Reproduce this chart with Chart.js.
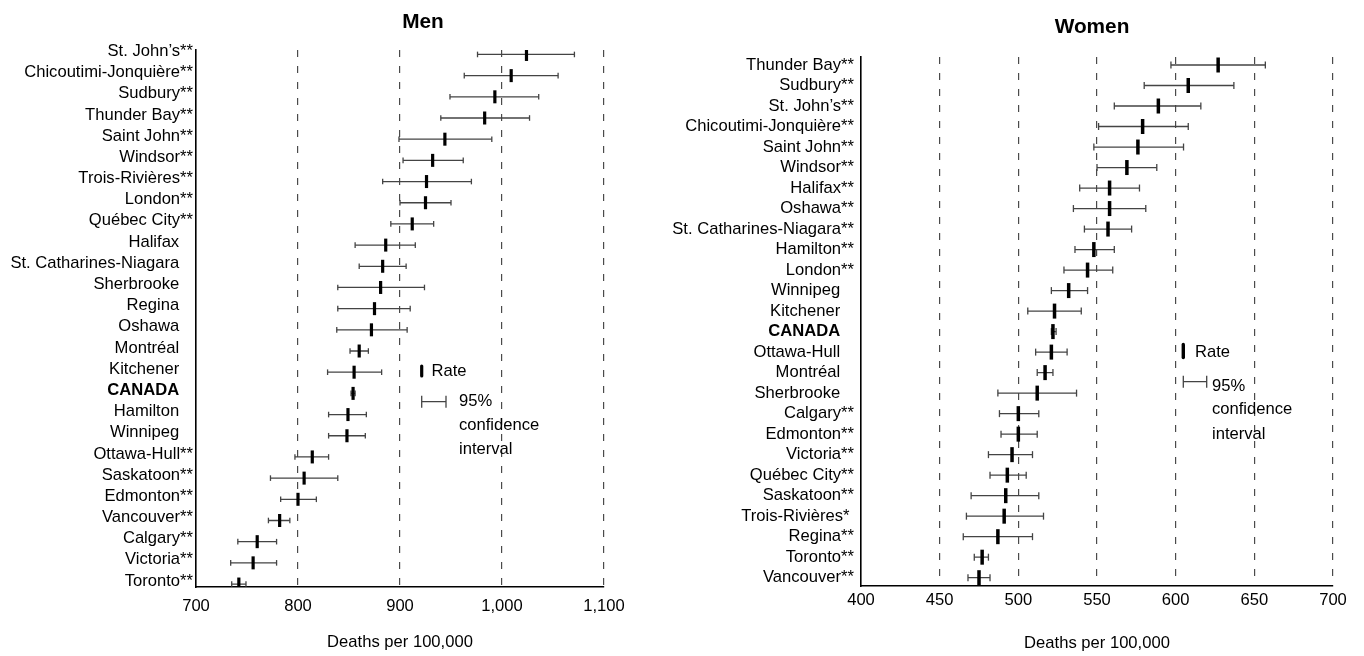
<!DOCTYPE html>
<html>
<head>
<meta charset="utf-8">
<script src="https://cdn.jsdelivr.net/npm/chart.js@4.4.1/dist/chart.umd.min.js"></script>
<style>
  html, body { margin: 0; padding: 0; background: #fff; overflow: hidden; width: 1364px; height: 656px; }
  .panel { position: absolute; top: 0; height: 656px; }
  #menWrap { left: 0; width: 644px; }
  #womenWrap { left: 664px; width: 700px; }
</style>
</head>
<body>
<div class="panel" id="menWrap"><canvas id="men"></canvas></div>
<div class="panel" id="womenWrap"><canvas id="women"></canvas></div>
<script>
// ---------------- DATA ----------------
const menCities = ["St. John’s**", "Chicoutimi-Jonquière**", "Sudbury**", "Thunder Bay**", "Saint John**",
  "Windsor**", "Trois-Rivières**", "London**", "Québec City**", "Halifax", "St. Catharines-Niagara",
  "Sherbrooke", "Regina", "Oshawa", "Montréal", "Kitchener", "CANADA", "Hamilton", "Winnipeg",
  "Ottawa-Hull**", "Saskatoon**", "Edmonton**", "Vancouver**", "Calgary**", "Victoria**", "Toronto**"];
const menRate = [1024, 1009, 993, 983, 944, 932, 926, 925, 912, 886, 883, 881, 875, 872, 860, 855, 854, 849, 848, 814, 806, 800, 782, 760, 756, 742];
const menLow  = [976, 963, 949, 940, 899, 903, 883, 900, 891, 856, 860, 839, 839, 838, 851, 829, 852, 830, 830, 797, 773, 783, 771, 741, 734, 735];
const menHigh = [1071, 1055, 1036, 1027, 990, 962, 970, 950, 933, 915, 906, 924, 910, 907, 869, 882, 856, 867, 866, 830, 839, 818, 792, 779, 779, 749];

const womenCities = ["Thunder Bay**", "Sudbury**", "St. John’s**", "Chicoutimi-Jonquière**", "Saint John**",
  "Windsor**", "Halifax**", "Oshawa**", "St. Catharines-Niagara**", "Hamilton**", "London**", "Winnipeg",
  "Kitchener", "CANADA", "Ottawa-Hull", "Montréal", "Sherbrooke", "Calgary**", "Edmonton**", "Victoria**",
  "Québec City**", "Saskatoon**", "Trois-Rivières*", "Regina**", "Toronto**", "Vancouver**"];
const womenRate = [627, 608, 589, 579, 576, 569, 558, 558, 557, 548, 544, 532, 523, 522, 521, 517, 512, 500, 500, 496, 493, 492, 491, 487, 477, 475];
const womenLow  = [597, 580, 561, 551, 548, 550, 539, 535, 542, 536, 529, 521, 506, 521, 511, 512, 487, 488, 489, 481, 482, 470, 467, 465, 472, 468];
const womenHigh = [657, 637, 616, 608, 605, 588, 577, 581, 572, 561, 560, 544, 540, 524, 531, 522, 537, 513, 512, 509, 505, 513, 516, 509, 481, 482];

const menTicks = [700, 800, 900, 1000, 1100];
const womenTicks = [400, 450, 500, 550, 600, 650, 700];
const axisTitle = "Deaths per 100,000";
const legendTexts = ["Rate", "95%", "confidence", "interval"];

// ---------------- FONT ----------------
function hasFont(name) {
  const c = document.createElement('canvas').getContext('2d');
  const t = 'Chicoutimi-Jonquière 1,000 Deaths';
  let diff = false;
  for (const base of ['monospace', 'serif']) {
    c.font = '20px ' + base; const a = c.measureText(t).width;
    c.font = '20px "' + name + '", ' + base; const b = c.measureText(t).width;
    if (Math.abs(a - b) > 0.5) diff = true;
  }
  return diff;
}
let FAMILY, K;
if (hasFont('Liberation Sans Narrow')) { FAMILY = '"Liberation Sans Narrow", "Liberation Sans", Arial, sans-serif'; K = 1; }
else { FAMILY = '"Liberation Sans", Arial, sans-serif'; K = 0.83; }
const fs = n => Math.round(n * K * 10) / 10;

// ---------------- DECOR PLUGIN (titles + legend) ----------------
const decor = {
  id: 'decor',
  afterDraw(chart, args, o) {
    const ctx = chart.ctx;
    ctx.save();
    ctx.fillStyle = '#000';
    ctx.font = 'bold ' + fs(25) + 'px ' + FAMILY;
    ctx.textAlign = 'center';
    ctx.textBaseline = 'alphabetic';
    ctx.fillText(o.title, o.titleX, o.titleY);

    // legend: rate symbol
    ctx.strokeStyle = '#000';
    ctx.lineCap = 'round';
    ctx.lineWidth = o.markW;
    ctx.beginPath();
    ctx.moveTo(o.lgX, o.rateY - o.markH / 2 + 1.5);
    ctx.lineTo(o.lgX, o.rateY + o.markH / 2 - 1.5);
    ctx.stroke();
    ctx.lineCap = 'butt';
    // legend: CI symbol
    ctx.strokeStyle = '#444';
    ctx.lineWidth = 1.3;
    ctx.beginPath();
    ctx.moveTo(o.lgX, o.ciY); ctx.lineTo(o.lgX2, o.ciY);
    ctx.moveTo(o.lgX, o.ciY - o.capH / 2); ctx.lineTo(o.lgX, o.ciY + o.capH / 2);
    ctx.moveTo(o.lgX2, o.ciY - o.capH / 2); ctx.lineTo(o.lgX2, o.ciY + o.capH / 2);
    ctx.stroke();
    // legend texts
    ctx.fillStyle = '#000';
    ctx.font = fs(20) + 'px ' + FAMILY;
    ctx.textAlign = 'left';
    ctx.textBaseline = 'middle';
    ctx.fillText(legendTexts[0], o.rateTX, o.rateTY);
    ctx.fillText(legendTexts[1], o.txX, o.t1Y);
    ctx.fillText(legendTexts[2], o.txX, o.t2Y);
    ctx.fillText(legendTexts[3], o.txX, o.t3Y);
    ctx.restore();
  }
};

function padLabel(s) {
  const stars = (s.match(/\*+$/) || [''])[0].length;
  return s + '\u00A0'.repeat(stars === 0 ? 3 : (stars === 1 ? 1 : 0));
}

function makeChart(id, cats, rate, lo, hi, tickVals, g) {
  const ciData = [];
  const capData = [];
  cats.forEach((c, i) => {
    ciData.push({ x: lo[i], y: i }, { x: hi[i], y: i }, { x: null, y: null });
    capData.push({ x: lo[i], y: i }, { x: hi[i], y: i });
  });
  const xmin = tickVals[0], xmax = tickVals[tickVals.length - 1];
  return new Chart(document.getElementById(id), {
    type: 'scatter',
    data: {
      datasets: [
        { label: 'Rate', data: rate.map((v, i) => ({ x: v, y: i })),
          pointStyle: 'line', pointRotation: 90, pointRadius: g.rateR, pointBorderWidth: g.rateW,
          pointBorderColor: '#000', pointBackgroundColor: '#000', pointHoverRadius: g.rateR },
        { label: 'caps', data: capData,
          pointStyle: 'line', pointRotation: 90, pointRadius: g.capR, pointBorderWidth: 1.3,
          pointBorderColor: '#444', pointHoverRadius: g.capR },
        { label: 'CI', data: ciData, showLine: true, spanGaps: false,
          borderColor: '#444', borderWidth: 1.3, pointRadius: 0, pointHoverRadius: 0 }
      ]
    },
    options: {
      responsive: true, maintainAspectRatio: false, animation: false, events: [],
      locale: 'en-US',
      layout: { padding: { left: 0, right: g.padR, top: g.padT, bottom: 0 } },
      plugins: { legend: { display: false }, tooltip: { enabled: false }, title: { display: false },
        decor: g.decor },
      scales: {
        x: {
          type: 'linear', min: xmin, max: xmax,
          afterBuildTicks: s => { s.ticks = tickVals.map(v => ({ value: v })); },
          ticks: { color: '#000', padding: g.xTickPad, maxRotation: 0, autoSkip: false,
                   font: { family: FAMILY, size: fs(20) } },
          grid: { display: true, drawTicks: false, lineWidth: 1.2,
                  color: c => (c.tick && c.tick.value === xmin) ? 'rgba(0,0,0,0)' : '#4a4a4a' },
          border: { display: true, color: '#000', width: 1.6, dash: [7, 9] },
          title: { display: true, text: axisTitle, color: '#000',
                   font: { family: FAMILY, size: fs(20) }, padding: { top: 0, bottom: g.xTitlePad } },
          afterFit: s => { s.height = g.xH; }
        },
        y: {
          type: 'linear', reverse: true, min: g.yMin, max: g.yMax,
          afterBuildTicks: s => { s.ticks = cats.map((c, i) => ({ value: i })); },
          ticks: { autoSkip: false, padding: g.yTickPad, labelOffset: g.labelOffset, color: '#000',
                   font: c => ({ family: FAMILY, size: fs(20),
                                 weight: (c.tick && cats[c.tick.value] === 'CANADA') ? 'bold' : 'normal' }),
                   callback: v => padLabel(cats[v]) },
          grid: { display: false, drawTicks: false },
          border: { display: true, color: '#000', width: 1.6 },
          afterFit: s => { s.width = g.yW; }
        }
      }
    },
    plugins: [decor]
  });
}

makeChart('men', menCities, menRate, menLow, menHigh, menTicks, {
  padR: 40, padT: 50, yW: 196, xH: 69, yMin: -0.21, yMax: 25.14,
  xTickPad: 9, xTitlePad: 4, yTickPad: 3, labelOffset: -3,
  rateR: 6.5, rateW: 3.2, capR: 2.8,
  decor: { title: 'Men', titleX: 423, titleY: 28,
           lgX: 421.7, lgX2: 446, rateY: 371, markH: 13, markW: 3.2, ciY: 401.7, capH: 12,
           rateTX: 431.5, rateTY: 371.5, txX: 459, t1Y: 401.7, t2Y: 425.7, t3Y: 449 }
});

makeChart('women', womenCities, womenRate, womenLow, womenHigh, womenTicks, {
  padR: 31, padT: 57, yW: 197, xH: 70, yMin: -0.39, yMax: 25.405,
  xTickPad: 4, xTitlePad: 3, yTickPad: 7, labelOffset: 0,
  rateR: 7.5, rateW: 3.5, capR: 3.5,
  decor: { title: 'Women', titleX: 428, titleY: 33,
           lgX: 519.3, lgX2: 542.7, rateY: 351, markH: 16, markW: 3.4, ciY: 381.7, capH: 12,
           rateTX: 531, rateTY: 352.5, txX: 548, t1Y: 386.7, t2Y: 409.5, t3Y: 434 }
});
</script>
</body>
</html>
